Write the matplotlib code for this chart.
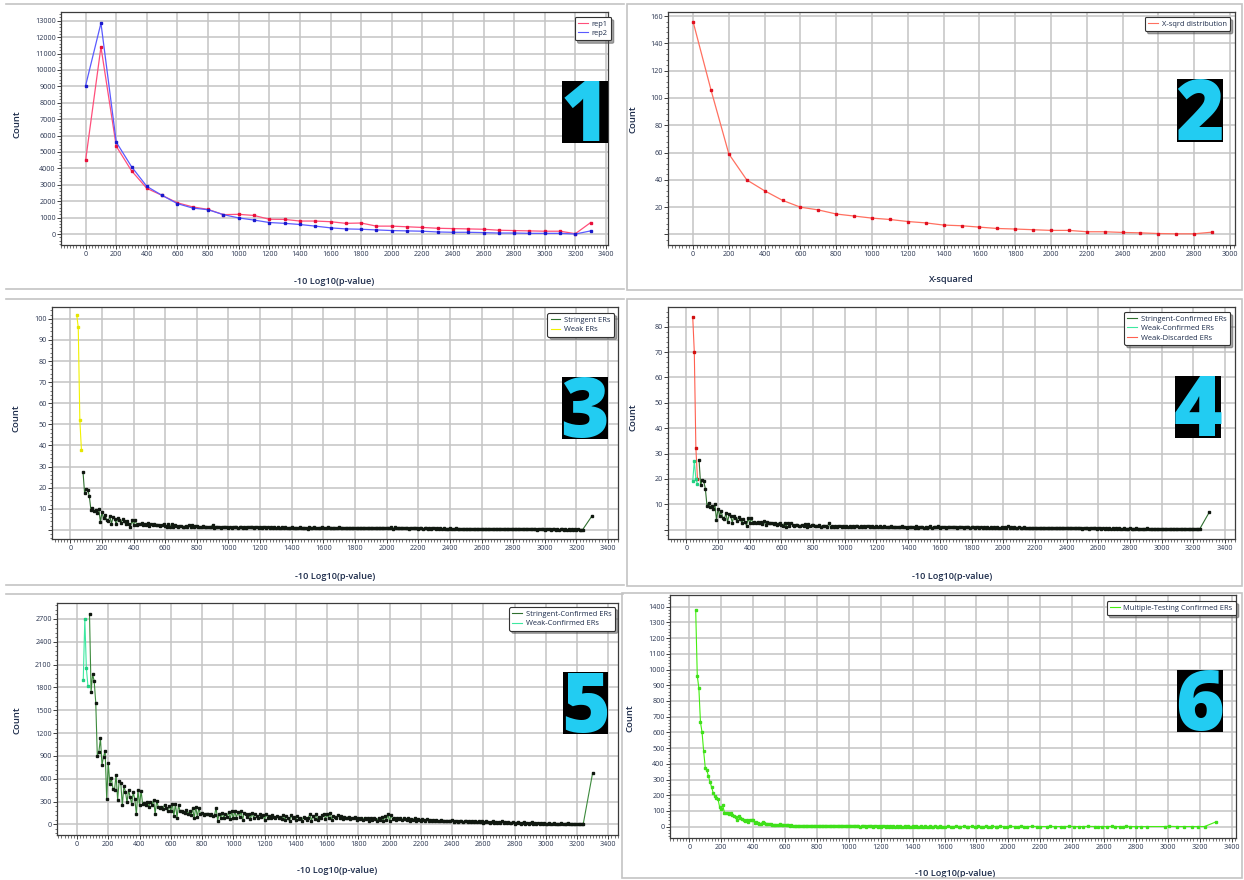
import numpy as np
import matplotlib
matplotlib.use('Agg')
import matplotlib.pyplot as plt
from matplotlib.lines import Line2D
from matplotlib.patches import Rectangle
from matplotlib.ticker import MultipleLocator

plt.rcParams['font.family'] = ['Open Sans', 'DejaVu Sans']

# ---------------- data ----------------
# Panel 1
p1_x = [0, 100, 200, 300, 400, 500, 600, 700, 800, 900, 1000, 1100, 1200, 1300, 1400, 1500, 1600,
        1700, 1800, 1900, 2000, 2100, 2200, 2300, 2400, 2500, 2600, 2700, 2800, 2900, 3000, 3100, 3200, 3300]
rep1 = [4500, 11400, 5350, 3850, 2780, 2350, 1900, 1650, 1500, 1180, 1200, 1130, 900, 890, 790, 790, 750,
        650, 670, 480, 480, 440, 400, 350, 330, 310, 290, 230, 210, 190, 170, 170, 20, 700]
rep2 = [9050, 12850, 5600, 4100, 2900, 2350, 1850, 1580, 1480, 1180, 980, 850, 700, 650, 580, 480, 375,
        310, 290, 250, 210, 190, 170, 125, 105, 105, 85, 60, 60, 40, 40, 40, 0, 190]

# Panel 2
p2_x = [0, 100, 200, 300, 400, 500, 600, 700, 800, 900, 1000, 1100, 1200, 1300, 1400, 1500, 1600,
        1700, 1800, 1900, 2000, 2100, 2200, 2300, 2400, 2500, 2600, 2700, 2800, 2900]
xsqrd = [156, 106, 59, 40, 32, 25, 20, 18, 15, 13.5, 12, 11, 9.5, 8.5, 6.9, 6.4, 5.4,
         4.4, 4.0, 3.5, 3.0, 3.0, 2.0, 2.0, 1.5, 1.2, 0.7, 0.5, 0.5, 1.7]

# Weak bins (panels 3-5)
weak_x = [40, 50, 60, 70]
weak_ers = [102, 96, 52, 38]
weak_discarded = [84, 70, 32, 20]
weak_confirmed4 = [19, 27, 20, 18]
weak_confirmed5 = [1900, 2700, 2050, 1820]

# Stringent bins 80..3240 step 10, plus the last bin at 3300
stringent_x = list(np.arange(80, 3250, 10)) + [3300]
stringent = [
    27.6, 17.5, 19.5, 19.0, 16.0, 9.5, 10.5, 9.0, 9.5, 8.0,
    10.0, 3.8, 8.3, 5.5, 7.2, 4.5, 4.3, 6.5, 3.0, 6.0,
    5.2, 2.8, 5.5, 4.5, 3.5, 5.0, 4.0, 2.8, 4.0, 3.0,
    1.5, 4.5, 2.5, 4.5, 2.5, 3.0, 2.7, 3.2, 2.5, 3.0,
    2.3, 3.4, 1.8, 3.0, 2.5, 2.6, 2.5, 2.2, 2.5, 2.0,
    2.4, 2.8, 2.0, 1.6, 2.6, 1.2, 2.8, 1.3, 2.5, 1.8,
    1.6, 1.8, 1.8, 1.4, 1.6, 1.8, 1.4, 2.2, 1.2, 2.3,
    1.5, 1.7, 2.0, 1.4, 1.6, 1.5, 1.7, 1.2, 1.6, 1.5,
    1.4, 1.2, 2.5, 0.9, 1.5, 1.2, 1.5, 1.1, 1.3, 1.6,
    1.2, 1.5, 1.1, 1.6, 1.0, 1.4, 1.2, 1.5, 0.9, 1.4,
    1.3, 1.1, 1.5, 1.0, 1.4, 1.2, 1.3, 1.6, 1.0, 1.3,
    1.2, 1.1, 1.4, 0.9, 1.3, 1.2, 1.0, 1.3, 1.1, 1.2,
    1.0, 1.3, 0.9, 1.2, 1.1, 1.0, 1.2, 0.9, 1.3, 1.0,
    1.1, 0.8, 1.2, 1.0, 0.9, 1.1, 0.7, 1.3, 0.8, 1.0,
    0.9, 1.1, 0.6, 1.2, 0.8, 1.0, 1.4, 0.7, 1.1, 0.9,
    1.0, 1.3, 0.8, 1.1, 0.9, 1.2, 0.8, 1.0, 1.1, 0.9,
    0.9, 1.0, 1.2, 0.8, 1.0, 0.9, 1.1, 0.8, 1.0, 0.9,
    1.0, 0.8, 1.1, 0.9, 0.8, 1.0, 0.9, 0.8, 1.0, 0.7,
    0.9, 0.8, 1.0, 0.7, 0.9, 0.8, 0.9, 0.7, 1.0, 0.8,
    0.8, 0.9, 0.7, 1.0, 0.8, 1.3, 0.6, 1.2, 0.7, 0.9,
    0.8, 0.7, 0.9, 0.8, 0.7, 0.9, 0.6, 0.8, 0.7, 0.8,
    0.7, 0.8, 0.6, 0.8, 0.7, 0.6, 0.8, 0.7, 0.6, 0.7,
    0.6, 0.7, 0.8, 0.6, 0.7, 0.5, 0.7, 0.6, 0.7, 0.6,
    0.6, 0.5, 0.7, 0.6, 0.5, 0.6, 0.7, 0.5, 0.6, 0.5,
    0.5, 0.6, 0.4, 0.6, 0.5, 0.6, 0.4, 0.5, 0.6, 0.5,
    0.5, 0.4, 0.6, 0.5, 0.3, 0.5, 0.4, 0.6, 0.4, 0.5,
    0.4, 0.5, 0.3, 0.5, 0.4, 0.5, 0.3, 0.4, 0.5, 0.3,
    0.4, 0.3, 0.5, 0.4, 0.3, 0.4, 0.6, 0.3, 0.4, 0.3,
    0.4, 0.3, 0.4, 0.5, 0.3, 0.4, 0.3, 0.2, 0.4, 0.3,
    0.3, 0.4, 0.2, 0.3, 0.4, 0.3, 0.2, 0.3, 0.4, 0.2,
    0.3, 0.2, 0.3, 0.4, 0.2, 0.3, 0.2, 0.3, 0.2, 0.3,
    0.2, 0.3, 0.2, 0.3, 0.2, 0.2, 0.2,
    6.8]

stringent5 = [
    2770, 1745, 1975, 1880, 1600, 900, 955, 1130, 780, 890,
    970, 335, 810, 530, 605, 470, 450, 650, 320, 575,
    550, 250, 500, 430, 290, 450, 360, 270, 420, 330,
    130, 450, 250, 440, 270, 280, 250, 290, 230, 300,
    260, 320, 140, 310, 230, 220, 230, 200, 260, 220,
    180, 240, 180, 270, 110, 270, 90, 250, 170, 180,
    160, 150, 190, 140, 170, 120, 210, 80, 230, 100,
    220, 130, 150, 120, 140, 130, 140, 120, 130, 110,
    120, 220, 50, 140, 90, 150, 80, 140, 100, 160,
    70, 170, 80, 170, 90, 160, 100, 170, 60, 150,
    130, 100, 140, 70, 150, 90, 140, 110, 80, 130,
    100, 120, 60, 130, 90, 110, 80, 120, 100, 90,
    110, 80, 100, 70, 120, 60, 110, 90, 40, 120,
    80, 100, 60, 110, 70, 90, 50, 100, 80, 60,
    90, 130, 50, 110, 70, 140, 60, 100, 80, 120,
    140, 70, 130, 90, 150, 60, 110, 100, 80, 120,
    90, 110, 70, 100, 80, 90, 100, 70, 90, 80,
    100, 60, 90, 70, 80, 60, 90, 70, 80, 50,
    90, 60, 80, 70, 50, 90, 60, 100, 40, 110,
    60, 130, 40, 120, 70, 90, 60, 80, 70, 90,
    60, 80, 70, 60, 80, 50, 70, 60, 80, 50,
    70, 60, 50, 70, 60, 50, 70, 40, 60, 50,
    60, 40, 60, 50, 40, 60, 50, 40, 50, 40,
    50, 40, 60, 30, 50, 40, 30, 50, 40, 30,
    40, 50, 30, 40, 30, 50, 30, 40, 30, 40,
    30, 40, 20, 30, 40, 30, 20, 30, 40, 20,
    30, 20, 30, 20, 40, 20, 30, 20, 30, 20,
    20, 30, 10, 20, 30, 20, 10, 20, 30, 10,
    20, 10, 20, 30, 10, 20, 10, 20, 10, 20,
    10, 20, 10, 0, 20, 10, 10, 20, 0, 10,
    10, 0, 20, 10, 0, 10, 20, 0, 10, 10,
    0, 10, 0, 10, 0, 10, 10,
    680]

# Panel 6
mt_x = list(np.arange(40, 1610, 10)) + [
    1620, 1640, 1650, 1670, 1690, 1700, 1720, 1740, 1750, 1770, 1790, 1800, 1810, 1830, 1840,
    1860, 1870, 1890, 1900, 1920, 1930, 1950, 1970, 1990, 2010, 2040, 2060, 2080, 2100, 2120,
    2150, 2180, 2200, 2240, 2260, 2290, 2330, 2350, 2380, 2410, 2440, 2470, 2500, 2540, 2560,
    2590, 2620, 2650, 2670, 2700, 2720, 2740, 2760, 2800, 2830, 2870, 2980, 3010, 3060, 3100,
    3150, 3190, 3230, 3300]
mt_counts = [
    1380, 960, 880, 665, 600, 480, 375, 360, 320, 285,
    250, 215, 195, 185, 175, 125, 115, 135, 90, 85,
    90, 80, 85, 75, 65, 60, 40, 65, 55, 50,
    45, 35, 45, 30, 40, 45, 40, 25, 30, 25,
    20, 20, 30, 25, 15, 20, 15, 18, 12, 10,
    8, 12, 10, 15, 12, 8, 10, 8, 10, 6,
    8, 5, 7, 6, 4, 7, 5, 6, 4, 5,
    6, 4, 5, 3, 5, 4, 6, 3, 4, 5,
    3, 4, 3, 5, 2, 4, 3, 4, 2, 3,
    4, 3, 2, 3, 4, 2, 3, 2, 4, 3,
    2, 3, 2, 1, 3, 2, 3, 1, 2, 3,
    2, 1, 2, 3, 1, 2, 1, 2, 3, 1,
    2, 1, 2, 1, 3, 1, 2, 1, 2, 1,
    1, 2, 1, 2, 1, 1, 2, 1, 2, 1,
    1, 2, 1, 1, 2, 1, 1, 2, 1, 1,
    2, 1, 1, 2, 1, 1, 1,
    2, 1, 1, 2, 1, 1, 2, 1, 1, 2, 1, 1, 2, 1, 1,
    2, 1, 1, 2, 1, 1, 2, 1, 1, 2, 1, 1, 2, 1, 1,
    2, 1, 1, 1, 2, 1, 1, 1, 2, 1, 1, 1, 2, 1, 1,
    1, 1, 2, 1, 1, 1, 2, 1, 1, 1, 1, 1, 2, 1, 1,
    1, 1, 1, 30]

# ---------------- figure ----------------
W, H = 1244, 880
fig = plt.figure(figsize=(W / 100, H / 100), dpi=100)
fig.patch.set_facecolor('white')

TICK_C = '#2a3550'
LAB_C = '#1c2b4a'
GRID_C = '#c4c4c4'


def fx(x):
    return x / W


def fy(y):
    return 1 - y / H


def frame_line(x0, x1, y):
    fig.add_artist(Line2D([fx(x0), fx(x1)], [fy(y), fy(y)], transform=fig.transFigure,
                          color='#c4c4c4', lw=1.2))


def frame_box(l, t, r, b):
    fig.add_artist(Rectangle((fx(l), fy(b)), fx(r - l), (b - t) / H, transform=fig.transFigure,
                             facecolor='none', edgecolor='#c4c4c4', lw=1.2))


frame_line(6, 624, 4)
frame_line(6, 624, 289)
frame_box(627, 4, 1242, 290)
frame_line(6, 624, 299)
frame_line(6, 624, 585)
frame_box(627, 299, 1242, 586)
frame_line(6, 623, 594)
frame_box(622, 593, 1242, 878)


def make_axes(box, xlim, ylim, xticks, yticks, ylabels, yminor, xlabel, xlab_px, ylab_px):
    l, t, r, b = box
    ax = fig.add_axes([fx(l), fy(b), fx(r - l), (b - t) / H])
    ax.set_xlim(*xlim)
    ax.set_ylim(*ylim)
    ax.set_xticks(xticks)
    ax.set_xticklabels([str(v) for v in xticks])
    ax.xaxis.set_minor_locator(MultipleLocator(20))
    ax.set_yticks(yticks)
    ax.set_yticklabels(ylabels)
    ax.yaxis.set_minor_locator(MultipleLocator(yminor))
    ax.grid(True, which='major', color=GRID_C, lw=1.1)
    ax.set_axisbelow(True)
    for s in ax.spines.values():
        s.set_color('#3c3c3c')
        s.set_linewidth(0.9)
    ax.tick_params(axis='both', which='major', labelsize=5.2, colors='#3c3c3c',
                   labelcolor=TICK_C, length=3, width=0.7, pad=1.5, direction='out')
    ax.tick_params(axis='both', which='minor', length=1.8, width=0.5, colors='#3c3c3c',
                   direction='out')
    ax.tick_params(axis='y', which='major', pad=0.8)
    ax.set_xlabel(xlabel, fontsize=6.6, color=LAB_C, fontweight='semibold', va='center')
    ax.xaxis.set_label_coords((xlab_px[0] - l) / (r - l), (b - xlab_px[1]) / (b - t))
    ax.set_ylabel('Count', fontsize=6.8, color=LAB_C, fontweight='semibold', va='center',
                  ha='center')
    ax.yaxis.set_label_coords((ylab_px[0] - l) / (r - l), (b - ylab_px[1]) / (b - t))
    return ax


def add_legend(ax, items, anchor_px):
    handles = [Line2D([0], [0], color=c, lw=0.8) for c, _ in items]
    labels = [t for _, t in items]
    leg = ax.legend(handles, labels, loc='upper right',
                    bbox_to_anchor=(fx(anchor_px[0]), fy(anchor_px[1])),
                    bbox_transform=fig.transFigure, fontsize=5.4, frameon=True, fancybox=True,
                    shadow=True, framealpha=1, edgecolor='#333333', handlelength=1.3,
                    handletextpad=0.5, borderpad=0.45, labelspacing=0.3, borderaxespad=0)
    for txt in leg.get_texts():
        txt.set_color(LAB_C)
    leg.get_frame().set_linewidth(0.8)


def badge(l, t, r, b, s):
    fig.add_artist(Rectangle((fx(l), fy(b)), fx(r - l), (b - t) / H, transform=fig.transFigure,
                             facecolor='black', edgecolor='none', zorder=10))
    fig.text(fx((l + r) / 2), fy(b - 2), s, ha='center', va='baseline', fontsize=60,
             fontweight='heavy', color='#22ccf2', zorder=11)


xt34 = list(range(0, 3401, 200))

# ---- Panel 1 ----
ax1 = make_axes((61, 12, 608, 245), (-161, 3413), (-670, 13530), xt34,
                list(range(0, 13001, 1000)), [str(v) for v in range(0, 13001, 1000)], 200,
                '-10 Log10(p-value)', (334, 281), (17, 124))
ax1.plot(p1_x, rep1, color='#ff4f7b', lw=0.9, marker='s', ms=2.0, mfc='#e8103a', mec='#e8103a', zorder=3)
ax1.plot(p1_x, rep2, color='#5a5aff', lw=0.9, marker='s', ms=2.0, mfc='#1a1acc', mec='#1a1acc', zorder=3)
add_legend(ax1, [('#ff4f7b', 'rep1'), ('#5a5aff', 'rep2')], (611, 17))

# ---- Panel 2 ----
yt2 = list(range(0, 161, 20))
ax2 = make_axes((668, 12, 1235, 245), (-140, 3028), (-7.7, 163), list(range(0, 3001, 200)),
                yt2, [''] + [str(v) for v in yt2[1:]], 4,
                'X-squared', (951, 280), (633, 119))
ax2.plot(p2_x, xsqrd, color='#ff7060', lw=0.9, marker='s', ms=2.0, mfc='#e01020', mec='#e01020', zorder=3)
add_legend(ax2, [('#ff7060', 'X-sqrd distribution')], (1230, 17))

# ---- Panel 3 ----
yt3 = list(range(0, 101, 10))
ax3 = make_axes((52, 307, 618, 539), (-116, 3463), (-4.3, 105.6), xt34,
                yt3, [''] + [str(v) for v in yt3[1:]], 2,
                '-10 Log10(p-value)', (335, 576), (16, 418))
ax3.plot(stringent_x, stringent, color='#2f6f2f', lw=0.8, marker='s', ms=1.5, mfc='#101810', mec='#101810', zorder=3)
ax3.plot(weak_x, weak_ers, color='#f2f200', lw=0.8, marker='s', ms=1.5, mfc='#e6e600', mec='#e6e600', zorder=3)
add_legend(ax3, [('#2f6f2f', 'Stringent ERs'), ('#f2f200', 'Weak ERs')], (614, 313))

# ---- Panel 4 ----
yt4 = list(range(0, 81, 10))
ax4 = make_axes((668, 307, 1235, 539), (-116, 3463), (-3.7, 87.8), xt34,
                yt4, [''] + [str(v) for v in yt4[1:]], 2,
                '-10 Log10(p-value)', (952, 576), (633, 417))
ax4.plot(weak_x, weak_discarded, color='#ff6050', lw=0.8, marker='s', ms=1.5, mfc='#d01010', mec='#d01010', zorder=3)
ax4.plot(weak_x, weak_confirmed4, color='#3de8a0', lw=0.8, marker='s', ms=1.5, mfc='#20d080', mec='#20d080', zorder=3)
ax4.plot(stringent_x, stringent, color='#2f6f2f', lw=0.8, marker='s', ms=1.5, mfc='#101810', mec='#101810', zorder=4)
add_legend(ax4, [('#2f6f2f', 'Stringent-Confirmed ERs'), ('#3de8a0', 'Weak-Confirmed ERs'),
                 ('#ff6050', 'Weak-Discarded ERs')], (1230, 312))

# ---- Panel 5 ----
yt5 = list(range(0, 2701, 300))
ax5 = make_axes((57, 603, 618, 835), (-128, 3462), (-140, 2910), xt34,
                yt5, [str(v) for v in yt5], 60,
                '-10 Log10(p-value)', (337, 870), (17, 720))
ax5.plot(weak_x, weak_confirmed5, color='#3de8a0', lw=0.8, marker='s', ms=1.5, mfc='#20d080', mec='#20d080', zorder=3)
ax5.plot(stringent_x, stringent5, color='#3c8a3c', lw=0.8, marker='s', ms=1.5, mfc='#101810', mec='#101810', zorder=4)
add_legend(ax5, [('#2f6f2f', 'Stringent-Confirmed ERs'), ('#3de8a0', 'Weak-Confirmed ERs')], (615, 607))

# ---- Panel 6 ----
yt6 = list(range(0, 1401, 100))
ax6 = make_axes((670, 595, 1236, 838), (-121, 3427), (-72, 1474), xt34,
                yt6, [str(v) for v in yt6], 20,
                '-10 Log10(p-value)', (955, 873), (630, 718))
ax6.plot(mt_x, mt_counts, color='#44ee11', lw=0.8, marker='s', ms=1.5, mfc='#3fe01a', mec='#3fe01a', zorder=3)
add_legend(ax6, [('#44ee11', 'Multiple-Testing Confirmed ERs')], (1236, 601))

# ---- panel number badges ----
badge(562, 81, 608, 143, '1')
badge(1177, 79, 1223, 142, '2')
badge(562, 377, 608, 439, '3')
badge(1175, 376, 1221, 438, '4')
badge(563, 672, 608, 734, '5')
badge(1177, 670, 1223, 732, '6')

fig.savefig('out.png', dpi=100, facecolor='white')
